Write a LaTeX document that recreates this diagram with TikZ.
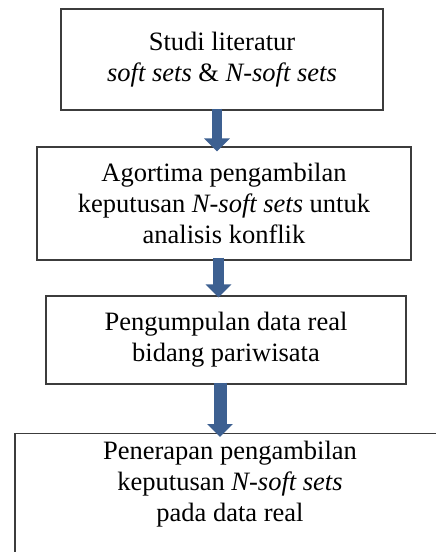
\documentclass[tikz,border=0pt]{standalone}
\usepackage{fontspec}
\setmainfont{Liberation Serif}[ItalicFont={Liberation Serif Italic}]
\usetikzlibrary{arrows.meta,calc}
\definecolor{arrowblue}{RGB}{61,96,145}
\definecolor{boxline}{RGB}{60,60,60}
\tikzset{
  stagebox/.style={draw=boxline, line width=1.1pt, rectangle, align=center,
    inner sep=0pt, font=\fontsize{26.5}{31}\selectfont},
  stagetext/.style={align=center, inner sep=0pt, font=\fontsize{26.5}{31}\selectfont},
  blockarrow/.style={draw=arrowblue, line width=#1, -{Triangle[width=25pt,length=13pt]}},
}
\begin{document}
\begin{tikzpicture}[x=1pt,y=-1pt]
\useasboundingbox (0,0) rectangle (436,552);
\fill[white] (0,0) rectangle (436,552);
\clip (0,0) rectangle (436,552);

\node[stagebox, minimum width=322pt, minimum height=101pt] (b1) at (222,59.5)
  {Studi literatur\\ \textit{soft sets} \& \textit{N-soft sets}};
\node[stagebox, minimum width=374pt, minimum height=113pt] (b2) at (224,203.5)
  {Agortima pengambilan\\ keputusan \textit{N-soft sets} untuk\\ analisis konflik};
\node[stagebox, minimum width=360pt, minimum height=88pt] (b3) at (226,340)
  {Pengumpulan data real\\ bidang pariwisata};
\node[stagebox, minimum width=430pt, minimum height=140pt, anchor=north] (b4) at (230,433) {};
\node[stagetext, anchor=north] (t4) at (230,441)
  {Penerapan pengambilan\\ keputusan \textit{N-soft sets}\\ pada data real};

\draw[blockarrow=10pt] ($(b1.south)+(-5,-2)$) -- ($(b2.north)+(-7,5)$);
\draw[blockarrow=11pt] ($(b2.south)+(-5.5,-3)$) -- ($(b3.north)+(-7.5,2)$);
\draw[blockarrow=13pt] ($(b3.south)+(-6,-2)$) -- ($(b4.north)+(-10,4)$);
\end{tikzpicture}
\end{document}
